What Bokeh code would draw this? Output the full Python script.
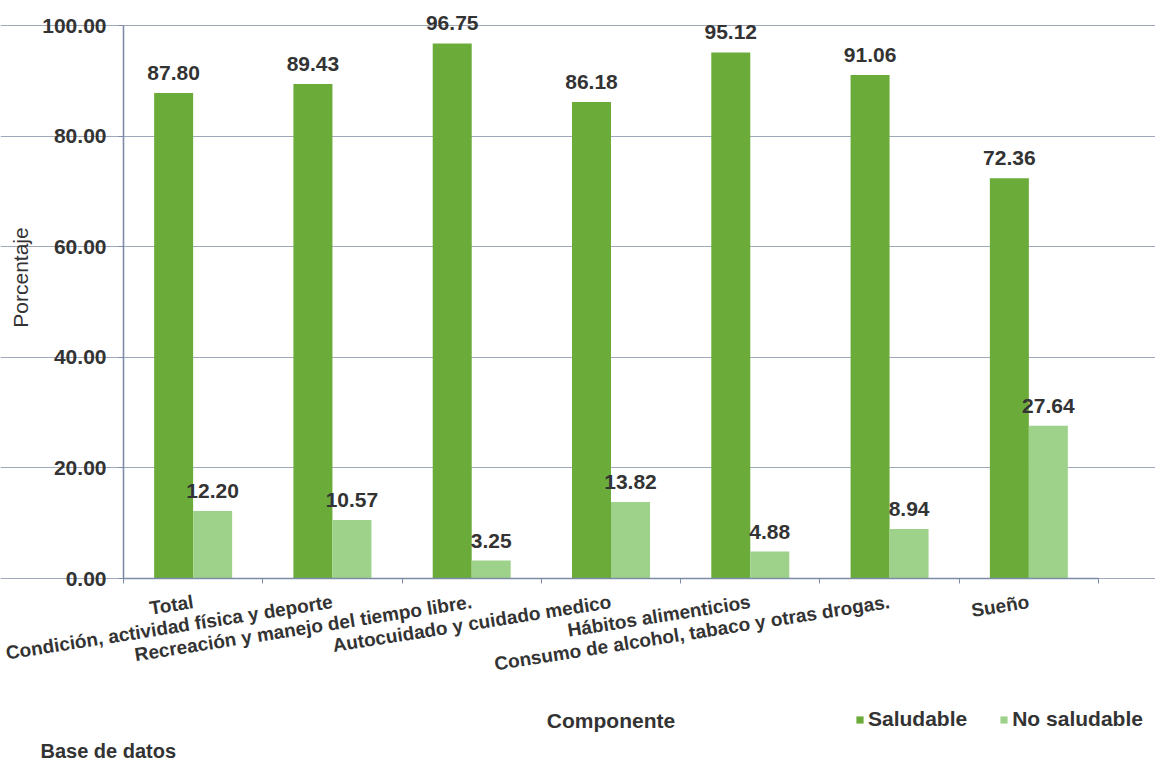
import math
from bokeh.plotting import figure
from bokeh.models import (ColumnDataSource, Range1d, FixedTicker, PrintfTickFormatter,
                          LabelSet, Label, Legend, LegendItem)
from bokeh.core.properties import value
from bokeh.transform import dodge
from bokeh.embed import file_html
from bokeh.resources import INLINE

# ---- data ----
categories = [
    "Total",
    "Condición, actividad física y deporte",
    "Recreación y manejo del tiempo libre.",
    "Autocuidado y cuidado medico",
    "Hábitos alimenticios",
    "Consumo de alcohol, tabaco y otras drogas.",
    "Sueño",
]
saludable = [87.80, 89.43, 96.75, 86.18, 95.12, 91.06, 72.36]
no_saludable = [12.20, 10.57, 3.25, 13.82, 4.88, 8.94, 27.64]
series_names = ["Saludable", "No saludable"]
y_ticks = [0, 20, 40, 60, 80, 100]
y_title = "Porcentaje"
x_title = "Componente"
footer = "Base de datos"

# ---- style / layout (pixels) ----
FONT = "Liberation Sans"
DARK = "#6aab3a"
LIGHT = "#9ed28b"
TXT = "#333333"
AXIS = "#7d8ba6"
GRID = "#a0a9bb"

W, H = 1155, 760
AX_LEFT, AX_RIGHT = 123, 1098   # pixel columns of the category axis ends
TOP_PX, ZERO_PX = 25, 578       # pixel rows of the 100 and 0 gridlines

n = len(categories)
ypx = (ZERO_PX - TOP_PX) / 100.0
xpx = (AX_RIGHT - AX_LEFT) / n
y_range = Range1d(-(H - ZERO_PX) / ypx, ZERO_PX / ypx)
x_range = Range1d(-AX_LEFT / xpx, n + (W - AX_RIGHT) / xpx)

centers = [i + 0.5 for i in range(n)]
src = ColumnDataSource(dict(
    x=centers, s=saludable, ns=no_saludable,
    s_txt=[f"{v:.2f}" for v in saludable],
    ns_txt=[f"{v:.2f}" for v in no_saludable],
))

p = figure(width=W, height=H, x_range=x_range, y_range=y_range,
           output_backend="svg", toolbar_location=None,
           min_border_left=0, min_border_right=0, min_border_top=0, min_border_bottom=0)
p.outline_line_color = None
p.background_fill_color = "white"
p.border_fill_color = "white"

p.ygrid.ticker = FixedTicker(ticks=y_ticks)
p.ygrid.bounds = (0, n)
p.ygrid.grid_line_color = GRID
p.xgrid.visible = False

r1 = p.vbar(x=dodge("x", -0.14), top="s", width=0.28, source=src,
            fill_color=DARK, line_color=None)
r2 = p.vbar(x=dodge("x", 0.14), top="ns", width=0.28, source=src,
            fill_color=LIGHT, line_color=None)

# vertical axis line of the value axis
p.segment(x0=[0], y0=[min(y_ticks)], x1=[0], y1=[max(y_ticks)],
          line_color=AXIS, line_width=1.3)

for col, txt, off in (("s", "s_txt", -0.14), ("ns", "ns_txt", 0.14)):
    p.add_layout(LabelSet(x=dodge("x", off), y=col, text=txt, source=src,
                          text_align="center", text_baseline="alphabetic", y_offset=13,
                          text_font=value(FONT), text_font_style="bold",
                          text_font_size="21px", text_color=TXT))

# y axis, drawn at x = 0
p.yaxis.fixed_location = 0
p.yaxis.bounds = (0, 100)
p.yaxis.ticker = FixedTicker(ticks=y_ticks)
p.yaxis.formatter = PrintfTickFormatter(format="%.2f")
p.yaxis.major_label_text_font = FONT
p.yaxis.major_label_text_font_style = "bold"
p.yaxis.major_label_text_font_size = "21px"
p.yaxis.major_label_text_color = TXT
p.yaxis.major_label_standoff = 12
p.yaxis.major_tick_out = 5
p.yaxis.major_tick_in = 0
p.yaxis.minor_tick_line_color = None
p.yaxis.axis_line_color = AXIS
p.yaxis.axis_line_width = 1.3
p.yaxis.major_tick_line_color = AXIS

# x axis, drawn at y = 0: labels at centres, ticks at boundaries
p.xaxis.fixed_location = 0
p.xaxis.bounds = (0, n)
p.xaxis.ticker = FixedTicker(ticks=centers, minor_ticks=list(range(n + 1)))
p.xaxis.major_label_overrides = {c: name for c, name in zip(centers, categories)}
p.xaxis.major_tick_line_color = None
p.xaxis.major_tick_out = 0
p.xaxis.major_tick_in = 0
p.xaxis.minor_tick_out = 5
p.xaxis.minor_tick_in = 0
p.xaxis.minor_tick_line_color = AXIS
p.xaxis.axis_line_color = AXIS
p.xaxis.axis_line_width = 1.3
p.xaxis.major_label_orientation = math.radians(9)
p.xaxis.major_label_text_font = FONT
p.xaxis.major_label_text_font_style = "bold"
p.xaxis.major_label_text_font_size = "19px"
p.xaxis.major_label_text_color = TXT
p.xaxis.major_label_standoff = 18

# titles (screen units measured from the bottom of the canvas)
p.add_layout(Label(x=20, y=H - 277, x_units="screen", y_units="screen", text=y_title,
                   angle=math.pi / 2, text_align="center", text_baseline="middle",
                   text_font=FONT, text_font_size="21px", text_color=TXT))
p.add_layout(Label(x=n / 2, y=H - 720, x_units="data", y_units="screen", text=x_title,
                   text_align="center", text_baseline="middle",
                   text_font=FONT, text_font_style="bold", text_font_size="21px",
                   text_color=TXT))
p.add_layout(Label(x=40, y=H - 750, x_units="screen", y_units="screen", text=footer,
                   text_align="left", text_baseline="middle",
                   text_font=FONT, text_font_style="bold", text_font_size="20px",
                   text_color=TXT))

legend = Legend(items=[LegendItem(label=series_names[0], renderers=[r1]),
                       LegendItem(label=series_names[1], renderers=[r2])],
                orientation="horizontal", location=(855, H - 731),
                border_line_color=None, background_fill_alpha=0,
                label_text_font=FONT, label_text_font_style="bold",
                label_text_font_size="21px", label_text_color=TXT,
                glyph_width=9, glyph_height=9, label_standoff=4, spacing=32,
                padding=0, margin=0, label_height=21)
p.add_layout(legend, "center")

open("out.html", "w").write(file_html(p, INLINE))
